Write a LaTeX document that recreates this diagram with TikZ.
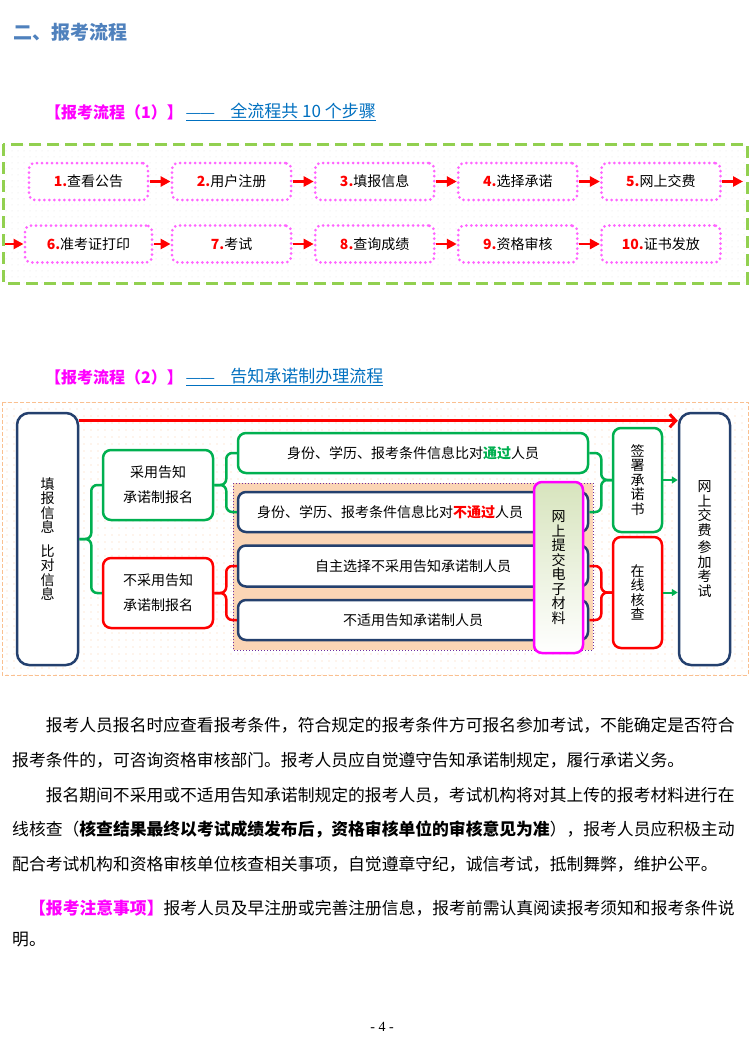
\documentclass[tikz,border=0pt]{standalone}
\usepackage{fontspec}
\setmainfont{Noto Sans CJK SC}
\newfontfamily\pnfont{Liberation Serif}
\newfontfamily\dashfont{Liberation Sans}
\usetikzlibrary{arrows.meta,patterns.meta}

\definecolor{titleblue}{RGB}{79,129,189}
\definecolor{linkblue}{RGB}{0,112,192}
\definecolor{hotpink}{RGB}{255,0,255}
\definecolor{stepdot}{RGB}{255,100,255}
\definecolor{framegreen}{RGB}{146,208,80}
\definecolor{okgreen}{RGB}{0,176,80}
\definecolor{navy}{RGB}{36,64,110}
\definecolor{peach}{RGB}{251,213,181}
\definecolor{dotviolet}{RGB}{112,48,160}
\definecolor{paleorange}{RGB}{250,192,144}
\definecolor{palegreen}{RGB}{215,228,189}

\begin{document}
\begin{tikzpicture}[x=1pt,y=-1pt,
    head/.style={anchor=west,inner sep=0pt,font=\fontsize{16}{18}\selectfont},
    para/.style={anchor=west,inner sep=0pt,font=\fontsize{16.8}{20}\selectfont},
    stepbox/.style={draw=stepdot,line width=3pt,dash pattern=on 0pt off 5pt,line cap=round,
      rounded corners=6pt,fill=white,minimum width=119pt,minimum height=37pt,
      font=\fontsize{14}{16}\selectfont},
    steparr/.style={red,line width=2.5pt,-{Triangle[length=10pt,width=10pt]}},
    box/.style={rounded corners=8pt,line width=2.5pt,fill=white,align=center,inner sep=0pt,
      font=\fontsize{14}{25}\selectfont},
    greenbox/.style={box,draw=okgreen},
    redbox/.style={box,draw=red},
    navybox/.style={box,draw=navy},
    vtext/.style={font=\fontsize{14}{14.5}\selectfont},
    upbox/.style={box,vtext,draw=hotpink,top color=palegreen,bottom color=white},
    gbrace/.style={okgreen,line width=2.5pt,rounded corners=6pt},
    rbrace/.style={red,line width=2.5pt,rounded corners=6pt},
    garrow/.style={okgreen,line width=2pt,-{Triangle[length=6pt,width=7pt]}},
    bigarrow/.style={red,line width=3pt,-{Straight Barb[length=6pt,width=13pt]}}]

  \fill[white] (0,0) rectangle (750,1039);
  \useasboundingbox (0,0) rectangle (750,1039);

  \node[anchor=west,inner sep=0pt,text=titleblue,font=\fontsize{19}{21}\selectfont\bfseries]
    (title) at (13,32) {二、报考流程};

  % flow 1
  \node[head,text=hotpink,font=\fontsize{16}{18}\selectfont\bfseries] (headA) at (45,112) {【报考流程（1）】};
  \node[head,text=linkblue,font=\fontsize{17}{19}\selectfont] (headAlink) at ([xshift=3pt]headA.east)
    {\underline{{\dashfont\fontsize{14}{16}\selectfont ——}\hspace{16pt}全流程共 10 个步骤}};

  \draw[framegreen,line width=3pt,dash pattern=on 12pt off 6pt,
    pattern={Dots[distance=6pt,radius=0.5pt]},pattern color=black!10] (3,144) rectangle (747,283);

  \foreach \n/\t [count=\i from 0] in {1/查看公告,2/用户注册,3/填报信息,4/选择承诺,5/网上交费}
    \node[stepbox] (s\n) at (88.5+143.1*\i,181.5) {\textcolor{red}{\bfseries\n.}\t};
  \node[stepbox,minimum width=127pt] (s6) at (88.5,244) {\textcolor{red}{\bfseries 6.}准考证打印};
  \foreach \n/\t [count=\i from 1] in {7/考试,8/查询成绩,9/资格审核,10/证书发放}
    \node[stepbox] (s\n) at (88.5+143.1*\i,244) {\textcolor{red}{\bfseries\n.}\t};

  \foreach \a/\b in {1/2,2/3,3/4,4/5,6/7,7/8,8/9,9/10}
    \draw[steparr] (s\a) -- (s\b);
  \coordinate (rowend) at (743,181.5);
  \coordinate (rowstart) at (5,244);
  \draw[steparr] (s5) -- (rowend);
  \draw[steparr] (rowstart) -- (s6);

  % flow 2
  \node[head,text=hotpink,font=\fontsize{16}{18}\selectfont\bfseries] (headB) at (45,377) {【报考流程（2）】};
  \node[head,text=linkblue,font=\fontsize{17}{19}\selectfont] (headBlink) at ([xshift=3pt]headB.east)
    {\underline{{\dashfont\fontsize{14}{16}\selectfont ——}\hspace{16pt}告知承诺制办理流程}};

  \draw[paleorange,line width=1pt,dash pattern=on 4pt off 2pt,
    pattern={Dots[distance=7pt,radius=0.6pt]},pattern color=paleorange!70] (2,402) rectangle (748,675);
  \draw[dotviolet,line width=1pt,dotted,fill=peach] (233,483) rectangle (593,650);

  \node[navybox,vtext,minimum width=61pt,minimum height=252pt,rounded corners=12pt] (fill) at (47.5,539)
    {填\\报\\信\\息\\[9pt]比\\对\\信\\息};
  \node[greenbox,minimum width=110pt,minimum height=70pt] (use) at (158,485) {采用告知\\承诺制报名};
  \node[redbox,minimum width=110pt,minimum height=70pt] (nouse) at (158,593) {不采用告知\\承诺制报名};

  \node[greenbox,minimum width=350pt,minimum height=40pt] (pass) at (413,453)
    {身份、学历、报考条件信息比对\textcolor{okgreen}{\bfseries 通过}人员};
  \node[navybox,minimum width=350pt,minimum height=40pt] (fail) at (413,512)
    {身份、学历、报考条件信息比对\textcolor{red}{\bfseries 不通过}人员\hspace*{46pt}};
  \node[navybox,minimum width=350pt,minimum height=41pt] (optout) at (413,566) {自主选择不采用告知承诺制人员};
  \node[navybox,minimum width=350pt,minimum height=40pt] (notapp) at (413,620) {不适用告知承诺制人员};
  \node[upbox,minimum width=49pt,minimum height=171pt] (upload) at (558.5,567.5) {网\\上\\提\\交\\电\\子\\材\\料};

  \node[greenbox,vtext,minimum width=49pt,minimum height=104pt] (sign) at (637.5,480) {签\\署\\承\\诺\\书};
  \node[redbox,vtext,minimum width=49pt,minimum height=111pt] (check) at (637.5,592.5) {在\\线\\核\\查};
  \node[navybox,vtext,minimum width=51pt,minimum height=252pt,rounded corners=12pt] (pay) at (704.5,539)
    {网\\上\\交\\费\\[3pt]参\\加\\考\\试};

  \draw[gbrace] (fill.east) -- ++(12,0) |- (use.west);
  \draw[gbrace] (fill.east) -- ++(12,0) |- (nouse.west);
  \draw[gbrace] (use.east) -- ++(12,0) |- (pass.west);
  \draw[gbrace] (use.east) -- ++(12,0) |- (fail.west);
  \draw[rbrace] (nouse.east) -- ++(12,0) |- (optout.west);
  \draw[rbrace] (nouse.east) -- ++(12,0) |- (notapp.west);
  \draw[gbrace] (pass.east) -- ++(12,0) |- (sign.west);
  \draw[gbrace] (fail.east) -- ++(12,0) |- (sign.west);
  \draw[rbrace] (optout.east) -- ++(12,0) |- (check.west);
  \draw[rbrace] (notapp.east) -- ++(12,0) |- (check.west);

  \draw[garrow] (sign) -- (sign -| pay.west);
  \draw[garrow] (check) -- (check -| pay.west);
  \coordinate (topline) at ([yshift=-9pt]fill.north east);
  \draw[bigarrow] (topline) -- (topline -| pay.west);

  % text below
  \node[para] (p1) at (45.6,725) {报考人员报名时应查看报考条件，符合规定的报考条件方可报名参加考试，不能确定是否符合};
  \node[para] (p2) at (12,760) {报考条件的，可咨询资格审核部门。报考人员应自觉遵守告知承诺制规定，履行承诺义务。};
  \node[para] (p3) at (45.6,795) {报名期间不采用或不适用告知承诺制规定的报考人员，考试机构将对其上传的报考材料进行在};
  \node[para] (p4) at (12,829) {线核查（\textbf{核查结果最终以考试成绩发布后，资格审核单位的审核意见为准}），报考人员应积极主动};
  \node[para] (p5) at (12,864) {配合考试机构和资格审核单位核查相关事项，自觉遵章守纪，诚信考试，抵制舞弊，维护公平。};
  \node[para] (note1) at (29,908) {\textcolor{hotpink}{\bfseries 【报考注意事项】}报考人员及早注册或完善注册信息，报考前需认真阅读报考须知和报考条件说};
  \node[para] (note2) at (12,940) {明。};

  \node[font=\pnfont\fontsize{14}{16}\selectfont] (pagenum) at (382,1027) {- 4 -};
\end{tikzpicture}
\end{document}
